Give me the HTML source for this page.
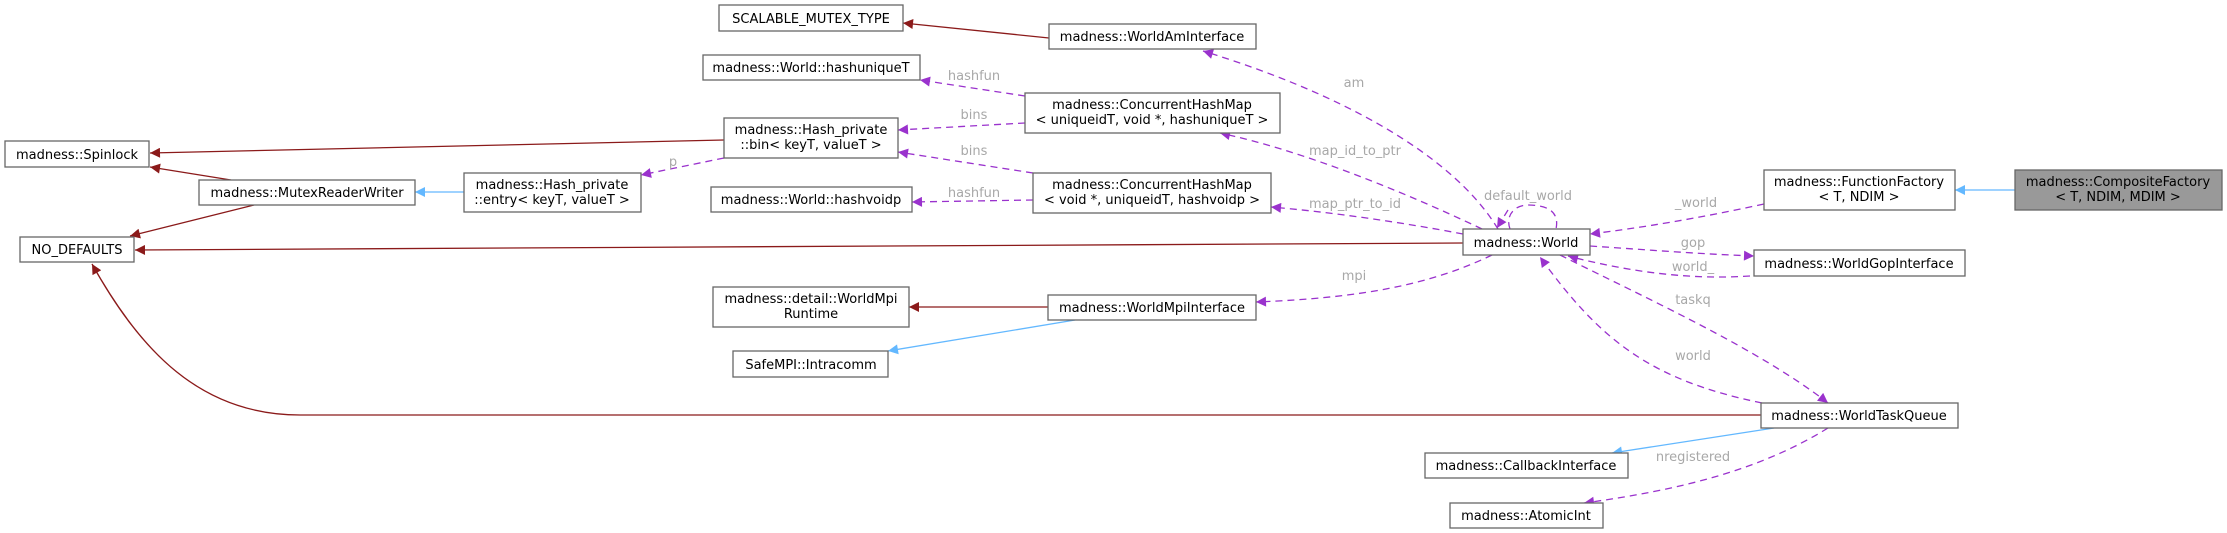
<!DOCTYPE html>
<html><head><meta charset="utf-8"><style>
html,body{margin:0;padding:0;background:#fff;}
svg{display:block;font-family:"DejaVu Sans","Liberation Sans",sans-serif;}
.b{fill:#fff;stroke:#666;stroke-width:1.3;}
.t{font-size:13px;fill:#000;text-anchor:middle;}
.l{font-size:13px;fill:#a8a8a8;text-anchor:middle;}
.r{stroke:#8b1a1a;stroke-width:1.3;fill:none;}
.u{stroke:#63b8ff;stroke-width:1.3;fill:none;}
.p{stroke:#9a32cd;stroke-width:1.3;fill:none;stroke-dasharray:7,5;}
</style></head><body>
<svg width="2227" height="533" viewBox="0 0 2227 533" xmlns="http://www.w3.org/2000/svg">
<defs>
<marker id="mr" viewBox="0 0 10 10" refX="10" refY="5" markerWidth="12" markerHeight="10" markerUnits="userSpaceOnUse" orient="auto"><path d="M0,0L10,5L0,10z" fill="#8b1a1a"/></marker>
<marker id="mu" viewBox="0 0 10 10" refX="10" refY="5" markerWidth="12" markerHeight="10" markerUnits="userSpaceOnUse" orient="auto"><path d="M0,0L10,5L0,10z" fill="#63b8ff"/></marker>
<marker id="mp" viewBox="0 0 10 10" refX="10" refY="5" markerWidth="12" markerHeight="10" markerUnits="userSpaceOnUse" orient="auto"><path d="M0,0L10,5L0,10z" fill="#9a32cd"/></marker>
</defs>

<!-- red edges -->
<path class="r" marker-end="url(#mr)" d="M1049,38 L903,23"/>
<path class="r" marker-end="url(#mr)" d="M724,140 L150,153"/>
<path class="r" marker-end="url(#mr)" d="M231,180 L150,167"/>
<path class="r" marker-end="url(#mr)" d="M254,205 L130,236"/>
<path class="r" marker-end="url(#mr)" d="M1463,243 L135,250"/>
<path class="r" marker-end="url(#mr)" d="M1761,415 L300,415 C200,415 140,350 92,264"/>
<path class="r" marker-end="url(#mr)" d="M1048,307 L909,307"/>

<!-- blue edges -->
<path class="u" marker-end="url(#mu)" d="M1075,320 L888,351"/>
<path class="u" marker-end="url(#mu)" d="M464,192 L415,192"/>
<path class="u" marker-end="url(#mu)" d="M2015,190 L1955,190"/>
<path class="u" marker-end="url(#mu)" d="M1774,428 L1612,453"/>

<!-- purple edges -->
<path class="p" marker-end="url(#mp)" d="M724,158 L641,175"/>
<path class="p" marker-end="url(#mp)" d="M1025,96 L920,80"/>
<path class="p" marker-end="url(#mp)" d="M1025,123 L898,130"/>
<path class="p" marker-end="url(#mp)" d="M1033,173 L898,152"/>
<path class="p" marker-end="url(#mp)" d="M1033,200 L912,202"/>
<path class="p" marker-end="url(#mp)" d="M1498,229 C1450,150 1330,90 1203,51"/>
<path class="p" marker-end="url(#mp)" d="M1482,229 C1400,190 1300,150 1220,133"/>
<path class="p" marker-end="url(#mp)" d="M1463,234 C1400,222 1330,212 1271,207"/>
<path class="p" marker-end="url(#mp)" d="M1510,229 C1505,215 1515,205 1528,205 C1545,205 1560,210 1556,229 M1508,210 L1497,228"/>
<path class="p" marker-end="url(#mp)" d="M1764,204 C1700,218 1640,228 1590,234"/>
<path class="p" marker-end="url(#mp)" d="M1590,246 C1650,250 1700,254 1754,256"/>
<path class="p" marker-end="url(#mp)" d="M1750,276 C1690,280 1630,272 1568,256"/>
<path class="p" marker-end="url(#mp)" d="M1560,255 C1650,300 1760,350 1828,403"/>
<path class="p" marker-end="url(#mp)" d="M1762,403 C1650,380 1600,340 1540,257"/>
<path class="p" marker-end="url(#mp)" d="M1492,255 C1430,285 1360,298 1256,302"/>
<path class="p" marker-end="url(#mp)" d="M1828,428 C1760,470 1680,490 1584,503"/>

<!-- labels -->
<text class="l" x="673" y="166">p</text>
<text class="l" x="974" y="80">hashfun</text>
<text class="l" x="974" y="119">bins</text>
<text class="l" x="974" y="155">bins</text>
<text class="l" x="974" y="197">hashfun</text>
<text class="l" x="1354" y="87">am</text>
<text class="l" x="1355" y="155">map_id_to_ptr</text>
<text class="l" x="1355" y="208">map_ptr_to_id</text>
<text class="l" x="1528" y="200">default_world</text>
<text class="l" x="1696" y="207">_world</text>
<text class="l" x="1693" y="247">gop</text>
<text class="l" x="1693" y="271">world_</text>
<text class="l" x="1693" y="304">taskq</text>
<text class="l" x="1693" y="360">world</text>
<text class="l" x="1354" y="280">mpi</text>
<text class="l" x="1693" y="461">nregistered</text>

<!-- nodes -->
<rect class="b" x="719" y="5" width="184" height="26"/><text class="t" x="811" y="23">SCALABLE_MUTEX_TYPE</text>
<rect class="b" x="1049" y="24" width="207" height="25"/><text class="t" x="1152" y="41">madness::WorldAmInterface</text>
<rect class="b" x="703" y="55" width="217" height="25"/><text class="t" x="811" y="72">madness::World::hashuniqueT</text>
<rect class="b" x="1025" y="93" width="255" height="40"/><text class="t" x="1152" y="109">madness::ConcurrentHashMap</text><text class="t" x="1152" y="124">&lt; uniqueidT, void *, hashuniqueT &gt;</text>
<rect class="b" x="724" y="118" width="174" height="40"/><text class="t" x="811" y="134">madness::Hash_private</text><text class="t" x="811" y="149">::bin&lt; keyT, valueT &gt;</text>
<rect class="b" x="1033" y="173" width="238" height="40"/><text class="t" x="1152" y="189">madness::ConcurrentHashMap</text><text class="t" x="1152" y="204">&lt; void *, uniqueidT, hashvoidp &gt;</text>
<rect class="b" x="711" y="187" width="201" height="25"/><text class="t" x="811" y="204">madness::World::hashvoidp</text>
<rect class="b" x="5" y="141" width="144" height="26"/><text class="t" x="77" y="159">madness::Spinlock</text>
<rect class="b" x="199" y="180" width="216" height="25"/><text class="t" x="307" y="197">madness::MutexReaderWriter</text>
<rect class="b" x="464" y="173" width="177" height="39"/><text class="t" x="552" y="189">madness::Hash_private</text><text class="t" x="552" y="204">::entry&lt; keyT, valueT &gt;</text>
<rect class="b" x="20" y="237" width="114" height="25"/><text class="t" x="77" y="254">NO_DEFAULTS</text>
<rect class="b" x="1463" y="229" width="127" height="26"/><text class="t" x="1526" y="247">madness::World</text>
<rect class="b" x="1764" y="170" width="191" height="40"/><text class="t" x="1859" y="186">madness::FunctionFactory</text><text class="t" x="1859" y="201">&lt; T, NDIM &gt;</text>
<rect x="2015" y="170" width="207" height="40" fill="#999" stroke="#666" stroke-width="1.3"/><text class="t" x="2118" y="186">madness::CompositeFactory</text><text class="t" x="2118" y="201">&lt; T, NDIM, MDIM &gt;</text>
<rect class="b" x="1754" y="250" width="211" height="26"/><text class="t" x="1859" y="268">madness::WorldGopInterface</text>
<rect class="b" x="713" y="287" width="196" height="40"/><text class="t" x="811" y="303">madness::detail::WorldMpi</text><text class="t" x="811" y="318">Runtime</text>
<rect class="b" x="1048" y="295" width="208" height="25"/><text class="t" x="1152" y="312">madness::WorldMpiInterface</text>
<rect class="b" x="733" y="351" width="155" height="26"/><text class="t" x="811" y="369">SafeMPI::Intracomm</text>
<rect class="b" x="1761" y="403" width="197" height="25"/><text class="t" x="1859" y="420">madness::WorldTaskQueue</text>
<rect class="b" x="1425" y="453" width="203" height="25"/><text class="t" x="1526" y="470">madness::CallbackInterface</text>
<rect class="b" x="1450" y="503" width="153" height="25"/><text class="t" x="1526" y="520">madness::AtomicInt</text>
</svg>
</body></html>
